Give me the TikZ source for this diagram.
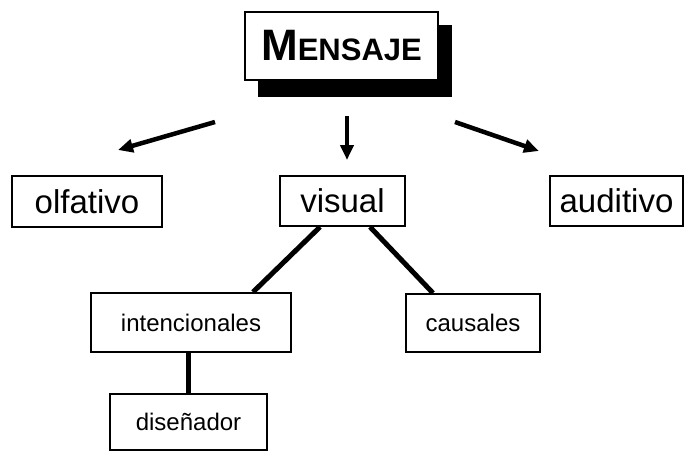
\documentclass[tikz,border=0pt]{standalone}
\usepackage{fontspec}
\setmainfont{Liberation Sans}
\usetikzlibrary{arrows.meta,calc}
\begin{document}
\begin{tikzpicture}[x=1pt,y=-1pt,
  box/.style={draw=black,line width=1.8pt,fill=white,inner sep=0pt,align=center},
  big/.style={font=\fontsize{33}{36}\selectfont},
  small/.style={font=\fontsize{24}{28}\selectfont},
  conn/.style={line width=5pt},
  arr/.style={line width=4.5pt,-{Triangle[length=15pt,width=13pt]}}]
\useasboundingbox (0,0) rectangle (688,451);
% shadow of title
\fill[black] (258,25) rectangle (452,97);
\node[box,minimum width=193pt,minimum height=68pt] (mensaje) at (341.5,46)
  {\bfseries\fontsize{44}{48}\selectfont M\fontsize{31}{34}\selectfont ENSAJE};
\node[box,big,minimum width=150pt,minimum height=51pt] (olfativo) at (87,201.5) {olfativo};
\node[box,big,minimum width=125pt,minimum height=50pt] (visual) at (342.5,201) {visual};
\node[box,big,minimum width=133pt,minimum height=50pt] (auditivo) at (616.5,201) {auditivo};
\node[box,small,minimum width=200pt,minimum height=59pt] (intencionales) at (191,322.5) {intencionales};
\node[box,small,minimum width=134pt,minimum height=58pt] (causales) at (473,323) {causales};
\node[box,small,minimum width=157pt,minimum height=56pt] (disenador) at (188.5,422) {diseñador};
% arrows
\coordinate (la) at (215,122); \coordinate (lb) at (118,150);
\coordinate (ca) at (347,116); \coordinate (cb) at (347,160);
\coordinate (ra) at (455,122); \coordinate (rb) at (539,151);
\draw[arr] (la) -- (lb);
\draw[arr] (ca) -- (cb);
\draw[arr] (ra) -- (rb);
% connectors
\draw[conn] ($(visual.south)+(-22.5,0)$) -- ($(intencionales.north)+(62,0)$);
\draw[conn] ($(visual.south)+(27.5,0)$) -- ($(causales.north)+(-40,0)$);
\draw[conn] (intencionales.south -| disenador.north) -- (disenador.north);
\end{tikzpicture}
\end{document}
